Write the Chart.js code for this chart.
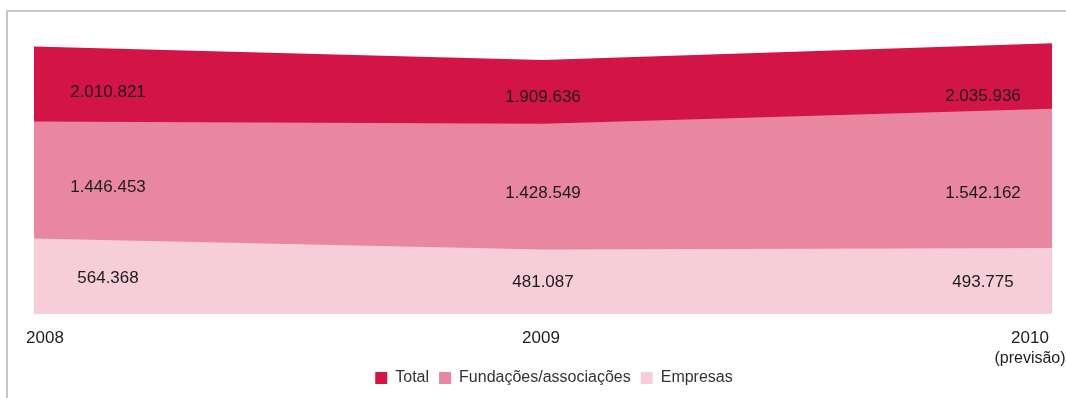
<!DOCTYPE html>
<html lang="pt">
<head>
    <meta charset="UTF-8">
    <script src="https://cdn.jsdelivr.net/npm/chart.js"></script>
    <title>Donativos 2008-2010</title>
    <style>
        body { margin: 0; background: #fff; }
    </style>
</head>
<body>
    <canvas id="myChart" width="1066" height="398"></canvas>
    <script>
        const years = ['2008', '2009', '2010'];
        const yearNotes = ['', '', '(previsão)'];
        const total = [2010821, 1909636, 2035936];
        const fundacoes = [1446453, 1428549, 1542162];
        const empresas = [564368, 481087, 493775];

        const FONT = "'Liberation Sans', Arial, sans-serif";

        function fmt(n) {
            return String(n).replace(/\B(?=(\d{3})+(?!\d))/g, '.');
        }

        // light grey frame on top and left
        const framePlugin = {
            id: 'frame',
            beforeDraw(chart) {
                const ctx = chart.ctx;
                ctx.save();
                ctx.fillStyle = '#c8c8c8';
                ctx.fillRect(6, 10, chart.width - 6, 2);
                ctx.fillRect(6, 10, 2, chart.height - 10);
                ctx.restore();
            }
        };

        // push the legend a little to the right of centre
        const legendShift = {
            id: 'legendShift',
            afterLayout(chart) {
                chart.legend.left += 11;
                chart.legend.right += 11;
            }
        };

        // value labels inside each band + year labels under the axis
        const labelPlugin = {
            id: 'labels',
            afterDatasetsDraw(chart) {
                const ctx = chart.ctx;
                const x = chart.scales.x, y = chart.scales.y;
                const layers = [total, fundacoes, empresas];
                const shiftX = [74, 0, -69];
                const nudge = [[8, 5, 20], [7, 7, 15], [2, 1, 2]];
                ctx.save();
                ctx.textAlign = 'center';
                ctx.textBaseline = 'middle';
                ctx.fillStyle = '#1c1c1c';
                ctx.font = '17px ' + FONT;
                layers.forEach((vals, li) => {
                    const below = layers[li + 1];
                    vals.forEach((v, i) => {
                        const low = below ? below[i] : 0;
                        const px = x.getPixelForValue(i) + shiftX[i];
                        const py = (y.getPixelForValue(v) + y.getPixelForValue(low)) / 2 + nudge[li][i];
                        ctx.fillText(fmt(v), px, py);
                    });
                });

                const yearShift = [11, -2, -22];
                const base = chart.chartArea.bottom + 25;
                ctx.fillStyle = '#222';
                years.forEach((yr, i) => {
                    const px = x.getPixelForValue(i) + yearShift[i];
                    ctx.font = '17px ' + FONT;
                    ctx.fillText(yr, px, base);
                    if (yearNotes[i]) {
                        ctx.font = '16px ' + FONT;
                        ctx.fillText(yearNotes[i], px, base + 20);
                    }
                });
                ctx.restore();
            }
        };

        const ctx = document.getElementById('myChart');
        new Chart(ctx, {
            type: 'line',
            data: {
                labels: years,
                datasets: [
                    {
                        label: 'Empresas',
                        data: empresas,
                        backgroundColor: '#f6cdd8',
                        borderWidth: 0,
                        fill: 'origin'
                    },
                    {
                        label: 'Fundações/associações',
                        data: fundacoes,
                        backgroundColor: '#e8879f',
                        borderWidth: 0,
                        fill: 'origin'
                    },
                    {
                        label: 'Total',
                        data: total,
                        backgroundColor: '#d31446',
                        borderWidth: 0,
                        fill: 'origin'
                    }
                ]
            },
            options: {
                responsive: false,
                animation: false,
                elements: {
                    point: { radius: 0, hoverRadius: 0 },
                    line: { tension: 0 }
                },
                layout: {
                    padding: { left: 34, right: 14, top: 28, bottom: 2 }
                },
                scales: {
                    x: {
                        offset: false,
                        grid: { display: false },
                        border: { display: false },
                        ticks: { display: false },
                        afterFit(scale) { scale.height = 46.5; }
                    },
                    y: {
                        display: false,
                        min: 0,
                        max: 2150000
                    }
                },
                plugins: {
                    tooltip: { enabled: false },
                    legend: {
                        position: 'bottom',
                        labels: {
                            boxWidth: 12,
                            boxHeight: 12,
                            padding: 10,
                            color: '#333',
                            font: { family: FONT, size: 16 },
                            sort: (a, b) => b.datasetIndex - a.datasetIndex
                        }
                    }
                }
            },
            plugins: [framePlugin, legendShift, labelPlugin]
        });
    </script>
</body>
</html>
